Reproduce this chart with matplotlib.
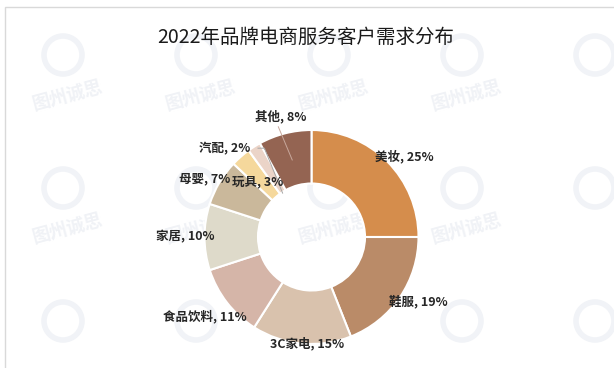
import matplotlib
matplotlib.use("Agg")
import matplotlib.pyplot as plt
import numpy as np
from matplotlib.patches import Circle, Rectangle

plt.rcParams['font.family'] = ['Noto Sans CJK SC', 'DejaVu Sans']

title = "2022年品牌电商服务客户需求分布"
categories = ["美妆", "鞋服", "3C家电", "食品饮料", "家居", "母婴", "玩具", "汽配", "其他"]
values = [25, 19, 15, 11, 10, 7, 3, 2, 8]
colors = ["#D58D4C", "#BA8B68", "#D9C2AD", "#D5B5A8", "#DEDACA",
          "#CAB89B", "#F5D89C", "#EBD4C8", "#946452"]

# label positions (pie-radius units, relative to centre)
label_pos = [(0.87, 0.75), (1.0, -0.60), (-0.04, -1.0), (-1.0, -0.74),
             (-1.18, 0.0), (-1.0, 0.54), (-0.50, 0.52), (-0.81, 0.82), (-0.29, 1.13)]

W, H = 614, 368
cx, cy, R = 311.5, 237.0, 107.0
fig = plt.figure(figsize=(W / 100, H / 100), dpi=100)
ax = fig.add_axes([0, 0, 1, 1])


def px(x, y):
    return (x - cx) / R, (cy - y) / R


wedges, _ = ax.pie(values, colors=colors, startangle=90, counterclock=False,
                   radius=1.0, center=(0, 0),
                   wedgeprops=dict(width=0.5, edgecolor='white', linewidth=1.5),
                   frame=True)
ax.set_xlim(-cx / R, (W - cx) / R)
ax.set_ylim((cy - H) / R, cy / R)
ax.set_aspect('auto')
ax.axis('off')

# faint watermarks
for yy in [95, 228, 361]:
    for xx in [67, 200, 333, 466, 599]:
        ccx, ccy = px(xx - 4, yy - 40)
        ax.add_patch(Circle((ccx, ccy), 19 / R, fill=False, lw=4,
                            ec='#F1F3F7', zorder=0))
        if xx < 560 and yy < 340:
            tx, ty = px(xx, yy)
            ax.text(tx, ty, "图州诚思", fontsize=13, fontweight='bold', color='#F0F2F6',
                    rotation=15, ha='center', va='center', zorder=0)

# border
bx, by = px(5, 7)
ax.add_patch(Rectangle((bx, by - 5), 10, 5, fill=False, ec='#D9D9D9', lw=1,
                       zorder=0.5))

for cat, v, (lx, ly) in zip(categories, values, label_pos):
    ax.text(lx, ly, f"{cat}, {v}%", fontsize=9, fontweight='bold', color='#262626',
            ha='center', va='center', zorder=5)

# leader lines
ax.plot([-0.50, -0.44, -0.27], [0.83, 0.83, 0.41], color='#A6A6A6', lw=0.7, zorder=4)
ax.plot([-0.31, -0.18], [1.03, 0.72], color='#C8A89C', lw=0.7, zorder=4)

fig.text(0.498, 0.899, title, fontsize=14, color='#1A1A1A', ha='center', va='center')

fig.savefig("out.png", dpi=100)
